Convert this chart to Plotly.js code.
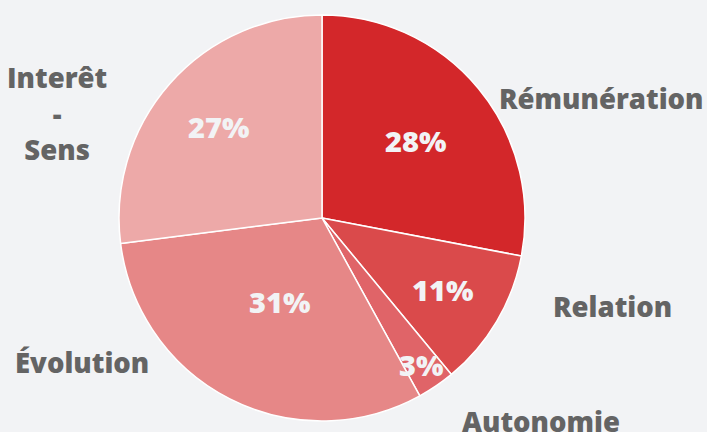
<!DOCTYPE html>
<html>
<head>
<meta charset="utf-8">
<script src="https://cdn.plot.ly/plotly-3.0.1.min.js"></script>
<style>
html,body{margin:0;padding:0;background:#f2f3f5;}
#chart{width:707px;height:432px;}
</style>
</head>
<body>
<div id="chart"></div>
<script>
// Data
var categories = ["Rémunération", "Relation", "Autonomie", "Évolution", "Interêt<br>-<br>Sens"];
var values = [28, 11, 3, 31, 27];
var percentLabels = ["28%", "11%", "3%", "31%", "27%"];

// Styles
var colors = ["#d3272a", "#da4a4b", "#e06468", "#e68787", "#eda9a8"];
var labelRadiusFrac = [0.6, 0.69, 0.87, 0.46, 0.68];
var catPos = [[601, 99], [612, 306], [541, 421], [82, 362], [57, 114]];

var W = 707, H = 432;
var cx = 322, cy = 218, R = 203;
var domX = [(cx - R) / W, (cx + R) / W];
var domY = [(H - cy - R) / H, (H - cy + R) / H];

var trace = {
  type: "pie",
  values: values,
  labels: categories,
  sort: false,
  direction: "clockwise",
  rotation: 0,
  textinfo: "none",
  hoverinfo: "label+percent",
  marker: { colors: colors, line: { color: "#ffffff", width: 1.5 } },
  domain: { x: domX, y: domY },
  showlegend: false
};

var total = values.reduce(function(a, b){ return a + b; }, 0);
var annotations = [];
var cum = 0;
for (var i = 0; i < values.length; i++) {
  var mid = (cum + values[i] / 2) / total * 2 * Math.PI;
  cum += values[i];
  var r = R * labelRadiusFrac[i];
  var px = cx + r * Math.sin(mid);
  var py = cy - r * Math.cos(mid);
  annotations.push({
    x: px / W, y: 1 - py / H, xref: "paper", yref: "paper",
    text: percentLabels[i], showarrow: false,
    font: { family: "Open Sans", size: 29, color: "#f2f3f5", weight: 800 },
    xanchor: "center", yanchor: "middle"
  });
  annotations.push({
    x: catPos[i][0] / W, y: 1 - catPos[i][1] / H, xref: "paper", yref: "paper",
    text: categories[i], showarrow: false,
    font: { family: "Open Sans", size: 27.5, color: "#646464", weight: 800 },
    xanchor: "center", yanchor: "middle", align: "center"
  });
}

var layout = {
  width: W, height: H,
  margin: { l: 0, r: 0, t: 0, b: 0 },
  paper_bgcolor: "#f2f3f5",
  plot_bgcolor: "#f2f3f5",
  annotations: annotations
};

Plotly.newPlot("chart", [trace], layout, { displayModeBar: false, staticPlot: true });
</script>
</body>
</html>
